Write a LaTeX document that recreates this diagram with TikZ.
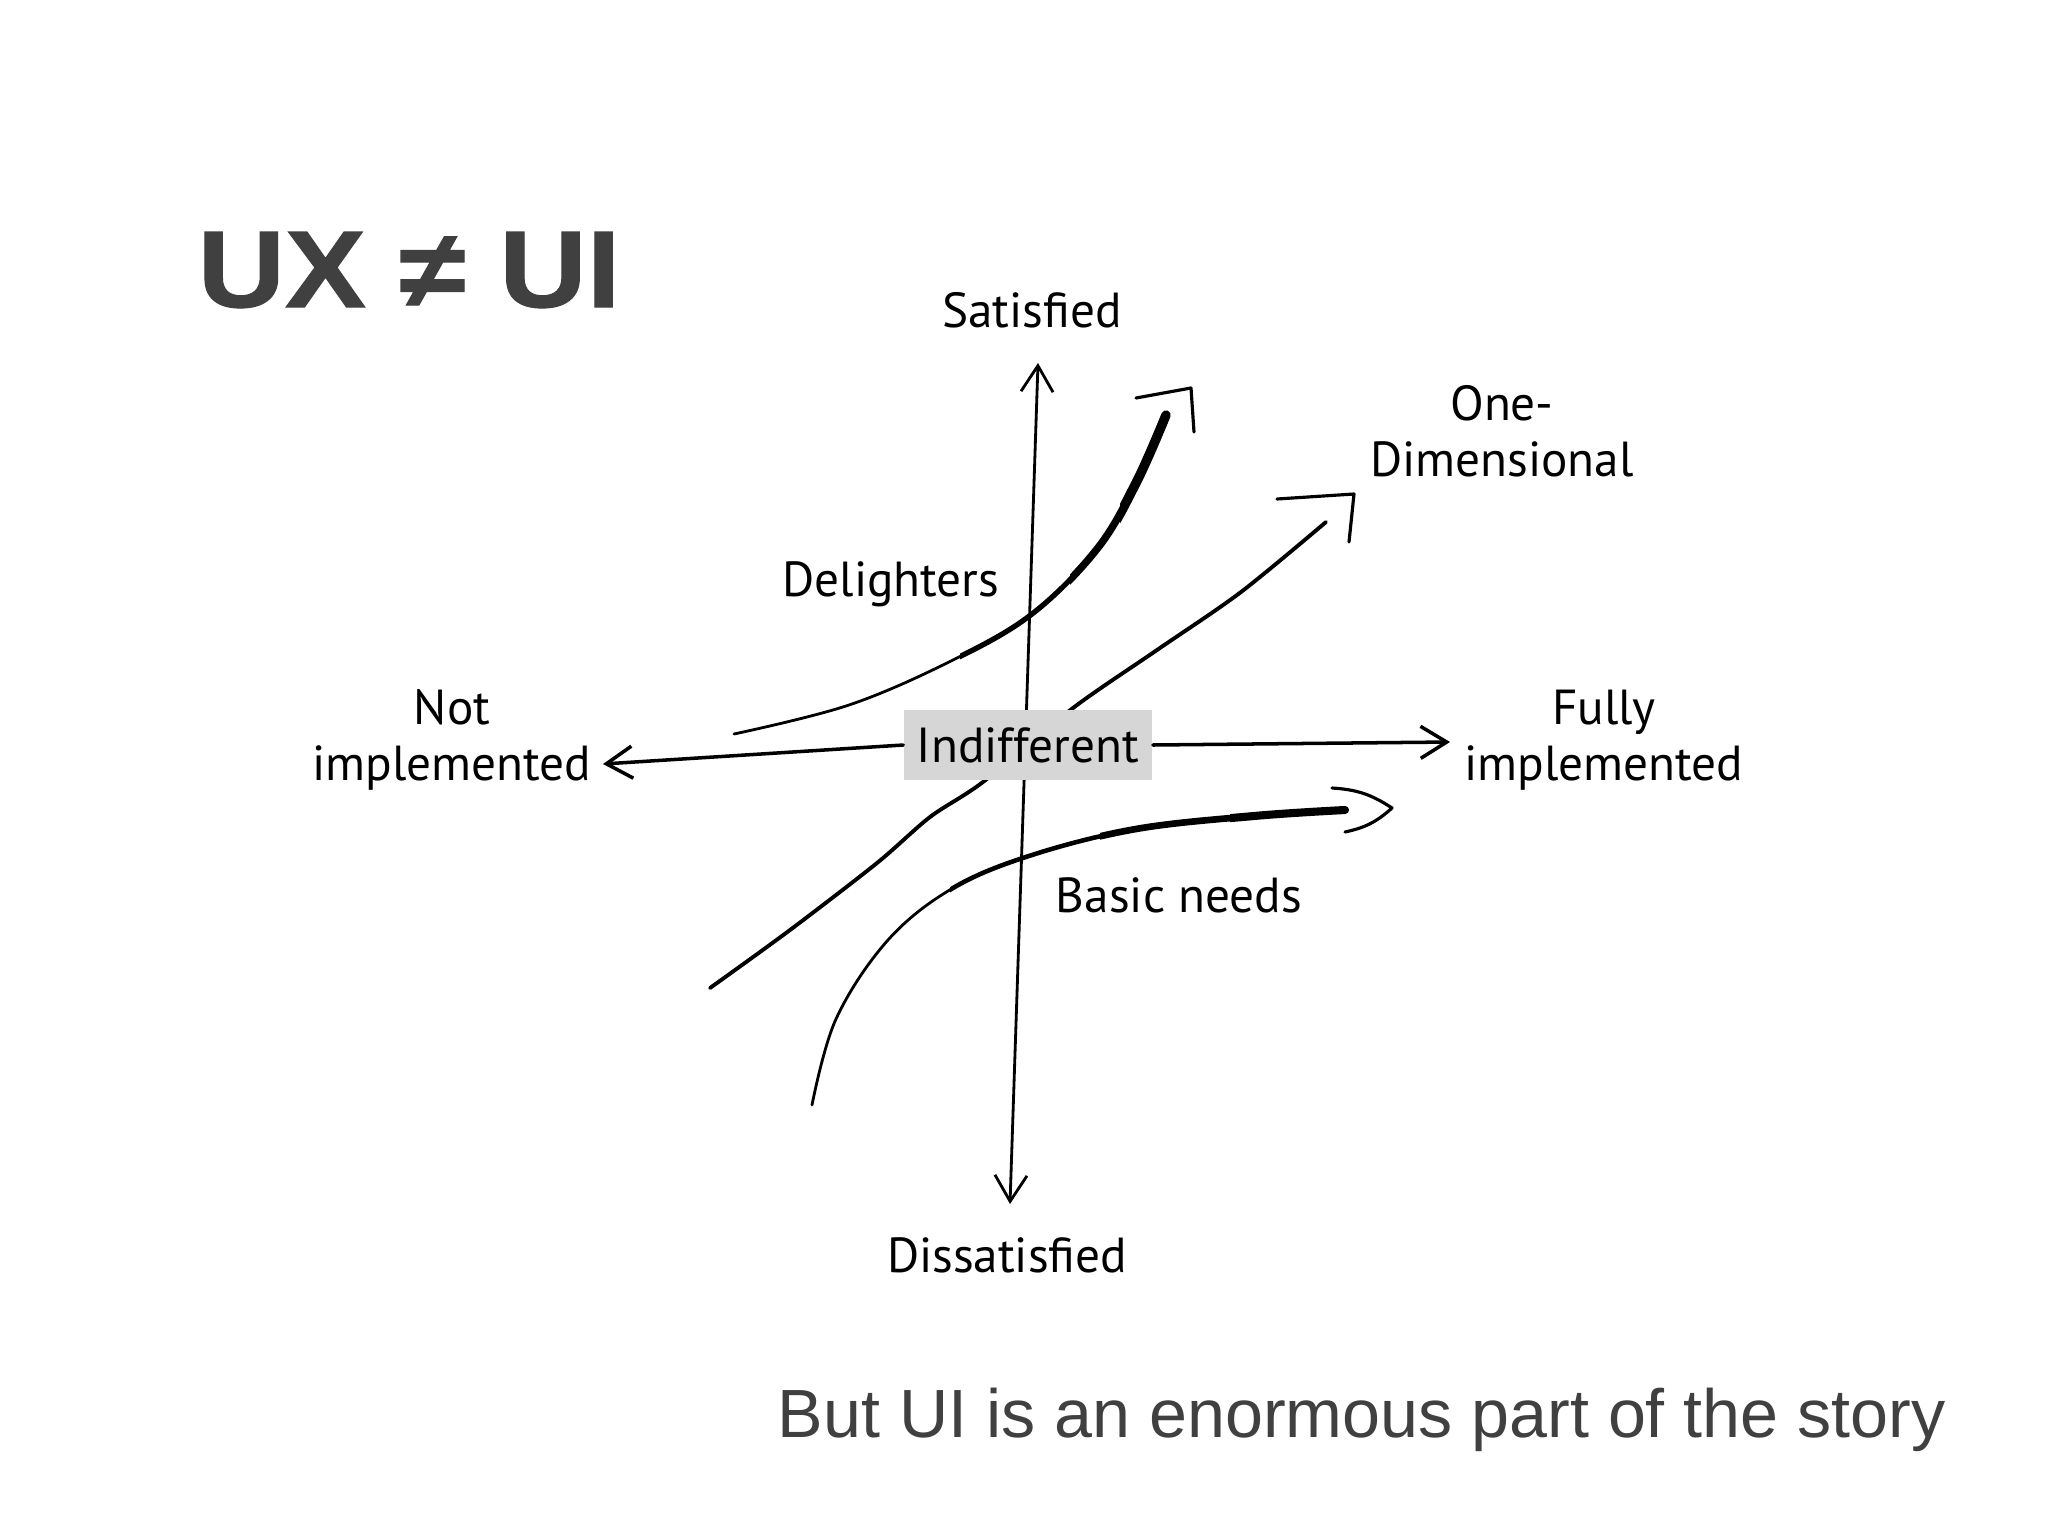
\documentclass[tikz,border=0pt]{standalone}
\usepackage{fontspec}
\setmainfont{Liberation Sans}
\newfontfamily\handfont{PT Sans}
\newfontfamily\titlefont[FakeStretch=1.11,FakeBold=1]{Liberation Sans}
\usetikzlibrary{arrows.meta}
\definecolor{slidegray}{HTML}{404040}
\definecolor{boxgray}{HTML}{D6D6D6}
\newcommand{\delcurve}{plot[smooth,tension=0.6] coordinates {(734,734) (849,705) (953,660) (1032,614) (1097,549) (1136,483) (1166,415)}}
\newcommand{\basiccurve}{plot[smooth,tension=0.6] coordinates {(812,1105) (836,1019) (888,940) (953,888) (1032,855) (1136,829) (1254,816) (1345,810)}}

\begin{document}
\begin{tikzpicture}[x=0.01cm, y=-0.01cm, >={Straight Barb[length=0.26cm,width=0.32cm]},
      lab/.style={font=\handfont\fontsize{14}{16}\selectfont,align=center,inner sep=1pt},
      axis/.style={line width=0.8pt,line cap=round},
      head/.style={line width=0.9pt,line cap=round,line join=round}]
      \fill[white] (0,0) rectangle (2048,1536);
      \node[anchor=base west,inner sep=0pt,text=slidegray,font=\titlefont\bfseries\fontsize{31}{36}\selectfont] (title) at (197,307) {UX ≠ UI};
      \node[anchor=base west,inner sep=0pt,text=slidegray,font=\fontsize{19.4}{23}\selectfont] (story) at (777,1437) {But UI is an enormous part of the story};
      \coordinate (ytop) at (1038,363);
      \coordinate (ybot) at (1010,1204);
      \coordinate (xl) at (603,764);
      \coordinate (xr) at (1450,742);
      \draw[axis,<->] (ybot) -- (ytop);
      \foreach \cx/\lw in {700/0.8,960/1.5,1070/2.1,1120/2.7}{
        \begin{scope}
          \clip (\cx,0) rectangle (2048,1536);
          \draw[line width=\lw pt,line cap=round] \delcurve;
        \end{scope}}
      \foreach \cx/\lw in {780/0.8,950/1.3,1100/1.9,1230/2.3}{
        \begin{scope}
          \clip (\cx,0) rectangle (2048,1536);
          \draw[line width=\lw pt,line cap=round] \basiccurve;
        \end{scope}}
      \draw[line width=1.1pt,line cap=round] plot[smooth,tension=0.5] coordinates {(710,988) (790,930) (877,863) (930,817) (983,782) (1073,708) (1157,650) (1241,592) (1326,522)};
      \draw[head] (1136,398) -- (1191,388) -- (1194,432);
      \draw[head] (1277,499) -- (1354,494) -- (1349,542);
      \draw[head] (1332,788) to[bend left=15] (1392,808) to[bend left=15] (1345,832);
      \node[lab,fill=boxgray,minimum width=2.48cm,minimum height=0.7cm,inner sep=0pt] (ind) at (1028,745) {Indifferent};
      \draw[axis,line width=1pt,->] (ind.west) -- (xl);
      \draw[axis,line width=1pt,->] (ind.east) -- (xr);
      \node[lab] (sat) at (1032,310) {Satisfied};
      \node[lab] (dis) at (1007,1255) {Dissatisfied};
      \node[lab] (notimp) at (452,740) {Not\\implemented};
      \node[lab] (fullimp) at (1604,740) {Fully\\implemented};
      \node[lab] (onedim) at (1502,431) {One-\\Dimensional};
      \node[lab] (deli) at (891,584) {Delighters};
      \node[lab] (basic) at (1179,895) {Basic needs};
    \end{tikzpicture}
\end{document}
